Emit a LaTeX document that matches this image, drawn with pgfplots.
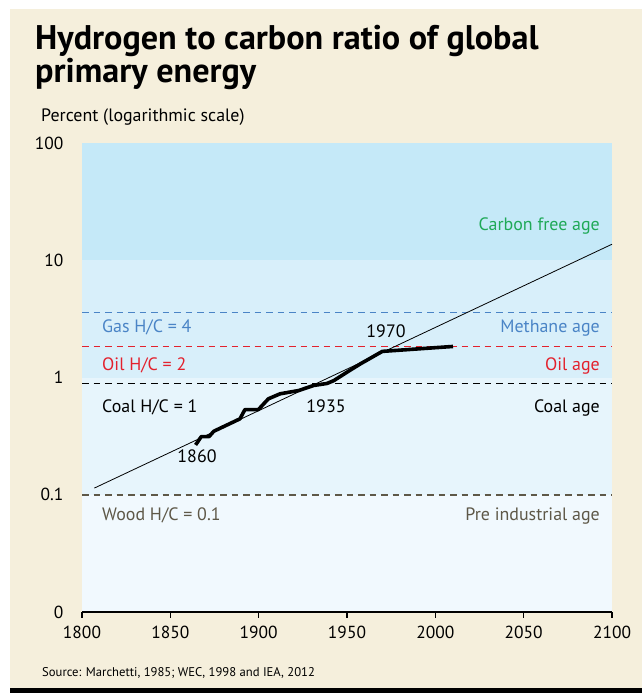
\documentclass[border=0pt]{standalone}
\usepackage{pgfplots}
\pgfplotsset{compat=1.18}
\usepackage{fontspec}
\setmainfont{PT Sans}
\usepackage{graphicx}
\definecolor{beige}{HTML}{F5EFDC}
\definecolor{bandA}{HTML}{C5E9F8}
\definecolor{bandB}{HTML}{D8EFFA}
\definecolor{bandC}{HTML}{E7F5FC}
\definecolor{bandD}{HTML}{F1F9FE}
\definecolor{cgreen}{HTML}{1FA957}
\definecolor{cblue}{HTML}{4A84C6}
\definecolor{cred}{HTML}{E3212D}
\definecolor{cwood}{HTML}{5E5848}
\newcommand{\lbl}{\fontsize{18}{21}\selectfont}
\begin{document}
\begin{tikzpicture}
\fill[white] (0bp,0bp) rectangle (642bp,693bp);
\fill[beige] (10bp,5bp) rectangle (642bp,684bp);
\fill[black] (10bp,0bp) rectangle (642bp,5bp);
% title
\node[anchor=north west, inner sep=0, align=left, font=\fontsize{34.3}{28}\selectfont\bfseries] at (35bp,668bp) {Hydrogen to carbon ratio of global\\primary energy};
\node[anchor=base west, inner sep=0] at (41bp,571bp) {\fontsize{18}{20}\selectfont Percent (logarithmic scale)};
\node[anchor=base west, inner sep=0] at (42bp,17bp) {\fontsize{12.7}{15}\selectfont Source: Marchetti, 1985; WEC, 1998 and IEA, 2012};
\begin{axis}[
  at={(82bp,81bp)}, anchor=south west, scale only axis,
  width=530bp, height=469bp,
  xmin=1800, xmax=2100, ymode=log, ymin=0.01, ymax=100,
  axis line style={draw=none},
  xtick={1800,1850,1900,1950,2000,2050,2100},
  xtick pos=left, tick align=outside,
  xtick style={black, line width=1.2bp},
  major tick length=6bp,
  ytick={0.01,0.1,1,10,100},
  yticklabels={0,0.1,1,10,100},
  ytick style={draw=none},
  minor ytick={},
  /pgf/number format/1000 sep={},
  /pgf/number format/assume math mode=true,
  tick label style={font=\fontsize{17.5}{20}\selectfont},
  xticklabel style={yshift=-5bp},
  yticklabel style={xshift=-9bp},
  clip=false,
]
\fill[bandA] (rel axis cs:0,0.75) rectangle (rel axis cs:1,1);
\fill[bandB] (rel axis cs:0,0.5) rectangle (rel axis cs:1,0.75);
\fill[bandC] (rel axis cs:0,0.25) rectangle (rel axis cs:1,0.5);
\fill[bandD] (rel axis cs:0,0) rectangle (rel axis cs:1,0.25);
\addplot[cblue, line width=1.5bp, dash pattern=on 6.5bp off 5bp] coordinates {(1800,3.6) (2100,3.6)};
\addplot[cred, line width=1.5bp, dash pattern=on 6.5bp off 5bp] coordinates {(1800,1.84) (2100,1.84)};
\addplot[black, line width=1.5bp, dash pattern=on 6.5bp off 5bp] coordinates {(1800,0.89) (2100,0.89)};
\addplot[cwood, line width=1.5bp, dash pattern=on 6.5bp off 5bp] coordinates {(1800,0.1) (2100,0.1)};
\addplot[black, line width=0.8bp] coordinates {(1807,0.114) (2100,13.7)};
\addplot[black, line width=3.6bp, line join=round] coordinates {
(1864.3,0.266) (1867.5,0.313) (1871.9,0.313) (1874.6,0.348) (1889.4,0.444)
(1892.2,0.532) (1899.8,0.532) (1905.5,0.658) (1912.1,0.726) (1922.6,0.774)
(1931.1,0.855) (1938.7,0.89) (1942.5,0.94) (1952,1.16) (1957.7,1.31)
(1970,1.67) (2010,1.84)};
\draw[black, line width=1.8bp] (rel axis cs:0,0) -- (rel axis cs:1,0);
\end{axis}
\lbl
\node[anchor=base east, inner sep=0, text=cgreen] at (600bp,462bp) {Carbon free age};
\node[anchor=base west, inner sep=0, text=cblue] at (102bp,360bp) {Gas H/C = 4};
\node[anchor=base east, inner sep=0, text=cblue] at (600bp,360bp) {Methane age};
\node[anchor=base west, inner sep=0, text=cred] at (102bp,322bp) {Oil H/C = 2};
\node[anchor=base east, inner sep=0, text=cred] at (600bp,322bp) {Oil age};
\node[anchor=base west, inner sep=0] at (102bp,280bp) {Coal H/C = 1};
\node[anchor=base east, inner sep=0] at (600bp,280bp) {Coal age};
\node[anchor=base west, inner sep=0, text=cwood] at (102bp,172bp) {Wood H/C = 0.1};
\node[anchor=base east, inner sep=0, text=cwood] at (600bp,172bp) {Pre industrial age};
\node[anchor=base, inner sep=0] at (386bp,355bp) {1970};
\node[anchor=base, inner sep=0] at (326bp,280bp) {1935};
\node[anchor=base, inner sep=0] at (197bp,230bp) {1860};
\end{tikzpicture}
\end{document}
